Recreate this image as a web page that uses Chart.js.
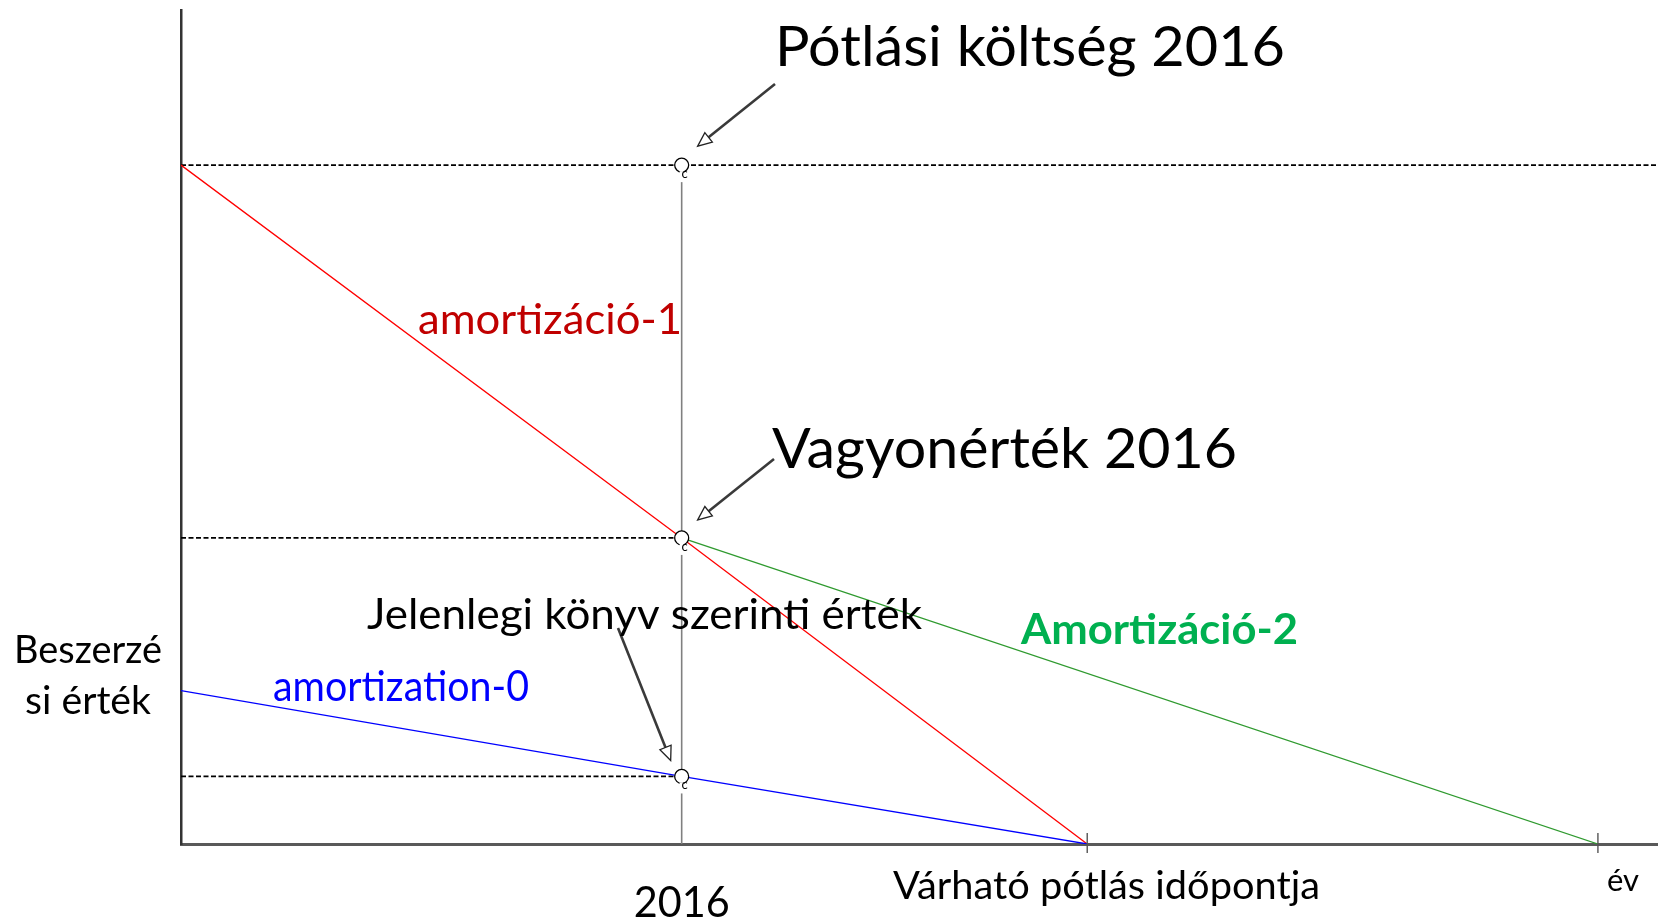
<!DOCTYPE html>
<html>
<head>
<meta charset="utf-8">
<script src="https://cdn.jsdelivr.net/npm/chart.js@4.4.1/dist/chart.umd.min.js"></script>
<style>
  html, body { margin: 0; padding: 0; background: #fff; overflow: hidden; }
  canvas { display: block; }
</style>
</head>
<body>
<canvas id="chart" width="1658" height="921"></canvas>
<script>
// x = years since purchase, y = value (relative units)
const xMax = 29.5;
const yMax = 100;

const tickValues = [10, 18.1];
const tickLabels = ['2016', 'Várható pótlás időpontja'];
const tickMarks = [18.1, 28.3];
const xTitle = 'év';
const yTitle = ['Beszerzé', 'si érték'];

// value lines
const amort0 = [{ x: 0, y: 18.4 }, { x: 10, y: 8.1 }, { x: 18.1, y: 0 }];
const amort1 = [{ x: 0, y: 81.4 }, { x: 10, y: 36.7 }, { x: 18.1, y: 0 }];
const amort2 = [{ x: 10, y: 36.7 }, { x: 28.3, y: 0 }];

// 2016 points: replacement cost, asset value, book value
const points2016 = [{ x: 10, y: 81.4 }, { x: 10, y: 36.7 }, { x: 10, y: 8.1 }];

// dashed guides
const guideTop = [{ x: 0, y: 81.4 }, { x: 29.5, y: 81.4 }];
const guideMid = [{ x: 0, y: 36.7 }, { x: 10, y: 36.7 }];
const guideLow = [{ x: 0, y: 8.1 }, { x: 10, y: 8.1 }];
const line2016 = [{ x: 10, y: 81.4 }, { x: 10, y: 0 }];

const FONT = 'Lato';

function fitText(ctx, s) {
    ctx.save();
    ctx.font = (s.bold ? 'bold ' : '') + s.size + 'px ' + FONT;
    const mw = ctx.measureText(s.text).width;
    const sx = s.w / mw;
    let x = s.x;
    if (s.center) x = s.x - s.w / 2;
    ctx.translate(x, s.y);
    ctx.scale(sx, 1);
    ctx.fillStyle = s.color || '#000';
    ctx.textBaseline = 'alphabetic';
    ctx.textAlign = 'left';
    ctx.fillText(s.text, 0, 0);
    ctx.restore();
}

function arrow(ctx, x1, y1, x2, y2) {
    const ang = Math.atan2(y2 - y1, x2 - x1);
    const headLen = 14, headW = 6;
    const bx = x2 - headLen * Math.cos(ang), by = y2 - headLen * Math.sin(ang);
    ctx.save();
    ctx.strokeStyle = '#3a3a3a';
    ctx.lineWidth = 2.6;
    ctx.beginPath(); ctx.moveTo(x1, y1); ctx.lineTo(bx, by); ctx.stroke();
    const px = -Math.sin(ang) * headW, py = Math.cos(ang) * headW;
    ctx.beginPath();
    ctx.moveTo(x2, y2); ctx.lineTo(bx + px, by + py); ctx.lineTo(bx - px, by - py); ctx.closePath();
    ctx.fillStyle = '#fff'; ctx.fill();
    ctx.lineWidth = 1.3; ctx.strokeStyle = '#222'; ctx.stroke();
    ctx.restore();
}

const annotations = {
    id: 'annotations',
    afterDatasetsDraw(chart) {
        const ctx = chart.ctx;
        const xs = chart.scales.x, ys = chart.scales.y;
        const base = ys.getPixelForValue(0);

        // tick marks on x axis
        ctx.save();
        ctx.strokeStyle = '#555';
        ctx.lineWidth = 1.4;
        tickMarks.forEach(v => {
            const px = xs.getPixelForValue(v);
            ctx.beginPath(); ctx.moveTo(px, base - 11); ctx.lineTo(px, base + 9); ctx.stroke();
        });
        ctx.restore();

        // gaps + small "c" under the 2016 points
        const pts = points2016.map(p => ({ x: xs.getPixelForValue(p.x), y: ys.getPixelForValue(p.y) }));
        pts.forEach(p => {
            ctx.save();
            ctx.fillStyle = '#fff';
            ctx.fillRect(p.x - 2, p.y + 6, 4, 11);
            ctx.font = '13px ' + FONT;
            ctx.fillStyle = '#000';
            ctx.textAlign = 'center';
            ctx.fillText('c', p.x + 3, p.y + 13);
            ctx.restore();
        });

        // arrows
        arrow(ctx, 775, 84, pts[0].x + 16, pts[0].y - 19);
        arrow(ctx, 774, 459, pts[1].x + 16, pts[1].y - 18);
        arrow(ctx, 618, 628, pts[2].x - 11, pts[2].y - 16);

        // texts
        const texts = [
            { text: 'Pótlási költség 2016', x: 775, y: 66, w: 510, size: 57 },
            { text: 'Vagyonérték 2016', x: 772, y: 468, w: 465, size: 57 },
            { text: 'amortizáció-1', x: 418, y: 334, w: 264, size: 42, color: '#c00000' },
            { text: 'Jelenlegi könyv szerinti érték', x: 367, y: 629, w: 555, size: 42 },
            { text: 'Amortizáció-2', x: 1021, y: 644, w: 277, size: 42, color: '#00b050', bold: true },
            { text: 'amortization-0', x: 273, y: 701, w: 256, size: 42, color: '#0000ff' },
            { text: yTitle[0], x: 14, y: 663, w: 148, size: 38 },
            { text: yTitle[1], x: 25, y: 714, w: 126, size: 38 },
            { text: tickLabels[0], x: xs.getPixelForValue(tickValues[0]), y: 917, w: 96, size: 42, center: true },
            { text: tickLabels[1], x: 893, y: 899, w: 427, size: 38 },
            { text: xTitle, x: 1607, y: 891, w: 32, size: 30 }
        ];
        texts.forEach(t => fitText(ctx, t));
    }
};

new Chart(document.getElementById('chart'), {
    type: 'scatter',
    data: {
        datasets: [
            { label: '2016', data: points2016, pointRadius: 7, pointBackgroundColor: '#fff',
              pointBorderColor: '#000', pointBorderWidth: 1.3, showLine: false },
            { label: 'amortization-0', data: amort0, showLine: true, borderColor: '#0000ff',
              borderWidth: 1.3, pointRadius: 0 },
            { label: 'amortizáció-1', data: amort1, showLine: true, borderColor: '#ff0000',
              borderWidth: 1.3, pointRadius: 0 },
            { label: 'Amortizáció-2', data: amort2, showLine: true, borderColor: '#2f9a2f',
              borderWidth: 1.3, pointRadius: 0 },
            { label: 'guideTop', data: guideTop, showLine: true, borderColor: '#000',
              borderWidth: 1.8, borderDash: [5, 2.5], pointRadius: 0 },
            { label: 'guideMid', data: guideMid, showLine: true, borderColor: '#000',
              borderWidth: 1.8, borderDash: [5, 2.5], pointRadius: 0 },
            { label: 'guideLow', data: guideLow, showLine: true, borderColor: '#000',
              borderWidth: 1.8, borderDash: [5, 2.5], pointRadius: 0 },
            { label: '2016 line', data: line2016, showLine: true, borderColor: '#808080',
              borderWidth: 1.6, pointRadius: 0 }
        ]
    },
    options: {
        responsive: false,
        animation: false,
        layout: { autoPadding: false, padding: { left: 181, right: 0, top: 10, bottom: 77 } },
        plugins: { legend: { display: false }, tooltip: { enabled: false } },
        scales: {
            x: { type: 'linear', min: 0, max: xMax, grid: { display: false, drawTicks: false },
                 ticks: { display: false, padding: 0 }, border: { color: '#595959', width: 3 } },
            y: { type: 'linear', min: 0, max: yMax, grid: { display: false, drawTicks: false },
                 ticks: { display: false, padding: 0 }, border: { color: '#333', width: 2.5 } }
        }
    },
    plugins: [annotations]
});
</script>
</body>
</html>
